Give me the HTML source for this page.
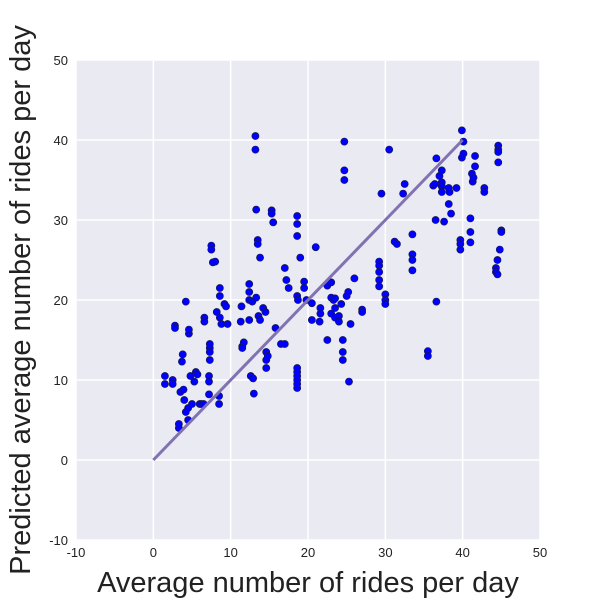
<!DOCTYPE html>
<html><head><meta charset="utf-8"><style>
html,body{margin:0;padding:0;background:#fff;width:600px;height:600px;overflow:hidden}
svg{display:block;font-family:"Liberation Sans",Arial,sans-serif}
</style></head><body>
<svg id="chart" width="600" height="600">
<rect x="76" y="60" width="464" height="480" fill="#eaeaf2"/>
<g id="grid"></g>
<g id="ticks"></g>
<g id="pts"></g>
<g id="fit"></g>
<text x="308" y="592" text-anchor="middle" font-size="29" fill="#222">Average number of rides per day</text>
<text transform="translate(30,300) rotate(-90)" text-anchor="middle" font-size="29" fill="#222">Predicted average number of rides per day</text>
</svg>
<script>
const xTicks=[-10,0,10,20,30,40,50];
const yTicks=[-10,0,10,20,30,40,50];
const xs=[1.5,1.5,2.5,2.5,2.8,2.8,3.3,3.3,3.5,3.7,3.8,3.9,4,4.2,4.2,4.5,4.5,4.6,4.6,4.8,5,5.3,5.5,5.7,6,6.2,6.5,6.6,6.6,7.3,7.3,7.3,7.3,7.2,7.2,7.2,7.5,7.5,7.7,8,8.2,8.6,8.6,8.6,8.8,8.5,8.5,9.2,9.4,9.6,
11.4,11.3,11.5,11.7,11.5,12.4,12.4,12.6,12.9,13,13.2,13.2,13.3,13.5,13.5,13.8,12.4,12.4,12.8,13.3,13.6,13.8,14.2,14.5,14.6,14.6,14.6,14.8,15.3,15.3,15.5,15.8,16.5,17,17.2,17.5,17,18.6,18.6,18.6,18.6,18.6,18.6,18.6,18.6,18.6,18.6,18.7,19,19.5,19.5,19.8,20.5,20.5,21,21.5,21.6,21.6,
22.5,22.5,23,23,23.3,23,23.5,23.5,23.5,24,24,24.3,24.5,24.5,24.5,24.7,24.7,24.7,25,25.2,25.3,25.5,26,27,27,29.2,29.2,29.2,29.2,29.2,29.5,30,30,30,30.5,31.2,31.5,32.3,32.5,33.5,33.5,33.5,33.5,35.5,35.5,36.2,36.4,36.5,36.6,36.6,37,37.3,37.3,37.3,37.3,37.6,38.2,38.3,38.2,38.5,39.2,39.7,39.7,39.7,39.9,39.9,40.1,40.1,41,41,41.2,41.3,41.4,41.6,41.6,41,42.8,42.8,44.5,44.3,44.3,44.5,44.6,44.6,44.6,44.6,44.8,45,45];
const ys=[10.5,9.5,10,9.5,16.8,16.5,4,4.5,8.5,12.3,13.2,8.8,7.5,19.8,6,5,6.5,15.8,16.3,10.5,7,9.8,11,10.7,7,7,7,17.8,17.3,14,14.5,13.5,12.5,10.5,9.8,8.2,26.8,26.3,24.7,24.8,18.5,21.5,20.5,17.8,17,8,7,19.5,19.2,17,
19.2,17.3,14.2,14.7,14,20,17.5,10.5,10.2,8.3,40.5,38.8,31.3,27.5,27,25.3,21,22,19.8,20.3,18,17.5,19,18.5,13.5,12.5,11.5,13,31.2,30.8,29.7,16.5,14.5,24,22.5,21.5,14.5,30.5,29.5,28,9,9.5,10,10.5,11,11.5,20.5,20,25.3,22.3,21.5,20,17.5,19.6,26.6,17.3,19,18.3,
15,21.8,22.2,20.3,20,18.3,20.2,19,17.8,18,17.3,19.5,15,13.5,12.5,39.8,36.2,35,20.5,21,9.8,17,22.7,18.8,18.5,24.8,24.3,23.5,22.5,21.7,33.3,20.7,20,19.5,38.8,27.3,27,33.3,34.5,28.2,25.7,25,23.7,13.6,13,34.3,34.5,30,37.7,19.8,35.5,34.7,34.2,33.5,36.2,29.8,32,33.5,34,30.8,34,27.5,27,26.3,41.2,37.8,39.8,38.3,28.5,30.2,35.8,34.8,35.3,36.7,38,27.2,34,33.5,25,24,23.5,23.2,39.3,38.8,38.5,37.2,26.3,28.7,28.5];
const lineX=[0,40];
const lineY=[0,40];
const X=v=>76+(v+10)*464/60;
const Y=v=>540-(v+10)*480/60;
const NS='http://www.w3.org/2000/svg';
function mk(t,a,p){const e=document.createElementNS(NS,t);for(const k in a)e.setAttribute(k,a[k]);p.appendChild(e);return e;}
const g=document.getElementById('grid'),tk=document.getElementById('ticks');
xTicks.forEach(v=>{
 const l=mk('line',{x1:X(v),x2:X(v),y1:60,y2:540,stroke:'#fff','stroke-width':1.5},g);
 
 
 const t=mk('text',{x:X(v),y:557,'text-anchor':'middle','font-size':13,fill:'#222'},tk);t.textContent=v;
 
 
});
yTicks.forEach(v=>{
 const l=mk('line',{x1:76,x2:540,y1:Y(v),y2:Y(v),stroke:'#fff','stroke-width':1.5},g);
 
 
 const t=mk('text',{x:68,y:Y(v)+5,'text-anchor':'end','font-size':13,fill:'#222'},tk);t.textContent=v;
 
 
});
const pg=document.getElementById('pts');
xs.forEach((x,i)=>{
 const c=mk('circle',{cx:X(x),cy:Y(ys[i]),r:3.6,fill:'#0000ff',stroke:'#1a1a40','stroke-width':0.6},pg);
 
 
});
const ln=mk('line',{x1:X(lineX[0]),y1:Y(lineY[0]),x2:X(lineX[1]),y2:Y(lineY[1]),stroke:'#8172b2','stroke-width':3},document.getElementById('fit'));


</script>
</body></html>
